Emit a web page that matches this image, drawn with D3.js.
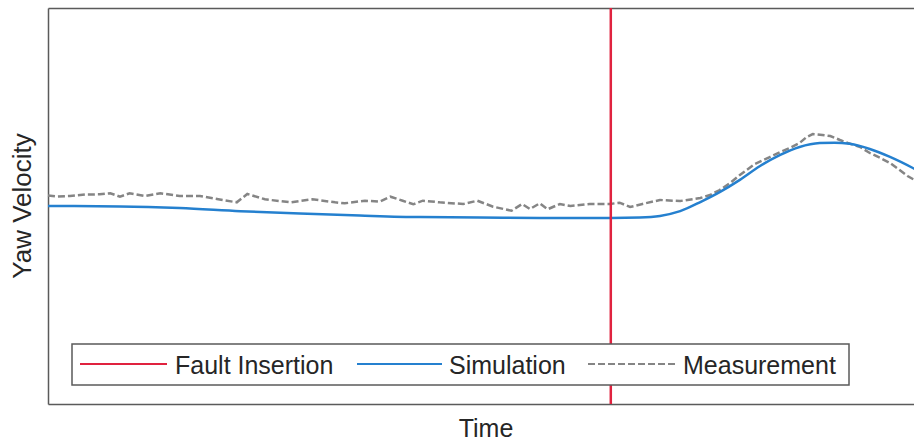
<!DOCTYPE html>
<html>
<head>
<meta charset="utf-8">
<script src="https://cdn.jsdelivr.net/npm/d3@7"></script>
<style>
  body { margin: 0; background: #fff; }
  svg { display: block; font-family: "Liberation Sans", Arial, sans-serif; }
</style>
</head>
<body>
<svg width="914" height="443"></svg>
<script>
// time (arbitrary units) and yaw velocity (arbitrary units)
const simTime = [0, 8.2, 15.0, 21.9, 28.7, 35.5, 42.4, 49.2, 56.0, 64.1, 67.4, 69.7, 72.0, 74.3, 76.5, 78.8, 81.1, 83.4, 85.6, 87.9, 89.6, 91.3, 93.6, 95.9, 98.5, 100];
const simValue = [50.0, 49.9, 49.5, 48.7, 48.1, 47.6, 47.2, 47.1, 47.0, 47.0, 47.1, 47.5, 48.7, 51.0, 53.5, 56.6, 60.1, 62.9, 64.9, 65.9, 66.0, 65.7, 64.4, 62.4, 59.6, 57.8];

const measTime = [0, 1.0, 2.5, 4.2, 5.9, 7.1, 8.2, 9.3, 11.05, 12.8, 15.0, 17.3, 19.4, 21.5, 22.7, 24.7, 27.6, 30.1, 32.7, 33.8, 36.1, 37.8, 39.0, 40.4, 41.6, 42.7, 44.6, 47.3, 48.9, 50.7, 52.8, 54.0, 54.9, 56.0, 56.9, 58.3, 59.5, 61.7, 64.0, 65.1, 66.3, 67.7, 69.7, 72.0, 74.3, 75.4, 76.5, 77.7, 78.8, 80.5, 82.2, 83.4, 84.5, 85.6, 86.4, 87.1, 88.2, 89.1, 90.2, 91.1, 92.5, 93.6, 94.8, 95.9, 97.0, 97.9, 98.5, 100];
const measValue = [52.65, 52.40, 52.53, 52.90, 52.95, 53.21, 52.35, 53.21, 52.53, 53.21, 52.53, 52.53, 51.69, 50.93, 53.03, 51.69, 50.93, 51.69, 50.93, 50.68, 51.34, 51.09, 52.35, 51.34, 50.43, 51.34, 50.93, 50.51, 51.34, 49.82, 48.81, 50.51, 49.24, 50.68, 49.17, 50.51, 50.0, 50.51, 50.51, 50.83, 49.75, 50.51, 51.52, 51.26, 52.02, 52.78, 54.04, 55.81, 57.83, 60.61, 62.37, 63.64, 64.65, 65.91, 67.42, 68.18, 67.93, 67.68, 66.67, 65.91, 64.90, 63.38, 62.12, 60.86, 59.09, 57.58, 56.82, 55.05];

const faultTime = 64.1;
const legendLabels = ["Fault Insertion", "Simulation", "Measurement"];

const margin = {top: 8, right: -12, bottom: 39, left: 48},
    width = 914 - margin.left - margin.right,
    height = 443 - margin.top - margin.bottom;

const colors = {fault: "#e0223f", sim: "#2580cf", meas: "#858585"};

const svg = d3.select("svg")
    .append("g")
    .attr("transform", `translate(${margin.left},${margin.top})`);

const x = d3.scaleLinear().domain([0, 100]).range([0, width]);
const y = d3.scaleLinear().domain([0, 100]).range([height, 0]);

// axes box (no ticks)
svg.append("g")
    .attr("transform", `translate(0,${height})`)
    .call(d3.axisBottom(x).tickValues([]).tickSizeOuter(0));
svg.append("g")
    .call(d3.axisTop(x).tickValues([]).tickSizeOuter(0));
svg.append("g")
    .call(d3.axisLeft(y).tickValues([]).tickSizeOuter(0));
svg.selectAll(".domain")
    .attr("stroke", "#5a5a5a")
    .attr("stroke-width", 1.5);

const line = d3.line()
    .x(d => x(d[0]))
    .y(d => y(d[1]))
    .curve(d3.curveMonotoneX);

// measurement
svg.append("path")
    .datum(d3.zip(measTime, measValue))
    .attr("fill", "none")
    .attr("stroke", colors.meas)
    .attr("stroke-width", 2.5)
    .attr("stroke-dasharray", "7,3")
    .attr("d", d3.line().x(d => x(d[0])).y(d => y(d[1])));

// simulation
svg.append("path")
    .datum(d3.zip(simTime, simValue))
    .attr("fill", "none")
    .attr("stroke", colors.sim)
    .attr("stroke-width", 2.5)
    .attr("d", line);

// fault insertion
svg.append("line")
    .attr("x1", x(faultTime)).attr("x2", x(faultTime))
    .attr("y1", 0).attr("y2", height)
    .attr("stroke", colors.fault)
    .attr("stroke-width", 2.5);

// axis labels
svg.append("text")
    .attr("transform", `translate(${31 - margin.left},${height / 2}) rotate(-90)`)
    .attr("text-anchor", "middle")
    .style("font-size", "26px")
    .attr("fill", "#262626")
    .text("Yaw Velocity");

svg.append("text")
    .attr("x", 486 - margin.left)
    .attr("y", 437 - margin.top)
    .attr("text-anchor", "middle")
    .style("font-size", "25px")
    .attr("fill", "#262626")
    .text("Time");

// legend
const legend = svg.append("g")
    .attr("transform", `translate(${72 - margin.left},${344 - margin.top})`);

legend.append("rect")
    .attr("width", 777)
    .attr("height", 41)
    .attr("fill", "white")
    .attr("stroke", "#5a5a5a")
    .attr("stroke-width", 1.5);

const items = [
    {label: legendLabels[0], color: colors.fault, dash: null, x0: 8, x1: 95, tx: 103},
    {label: legendLabels[1], color: colors.sim, dash: null, x0: 285, x1: 370, tx: 377},
    {label: legendLabels[2], color: colors.meas, dash: "7,3", x0: 516, x1: 603, tx: 611}
];

items.forEach(d => {
    legend.append("line")
        .attr("x1", d.x0).attr("x2", d.x1)
        .attr("y1", 20).attr("y2", 20)
        .attr("stroke", d.color)
        .attr("stroke-width", 2.2)
        .attr("stroke-dasharray", d.dash);
    legend.append("text")
        .attr("x", d.tx)
        .attr("y", 30)
        .style("font-size", "25px")
        .attr("fill", "#262626")
        .text(d.label);
});
</script>
</body>
</html>
